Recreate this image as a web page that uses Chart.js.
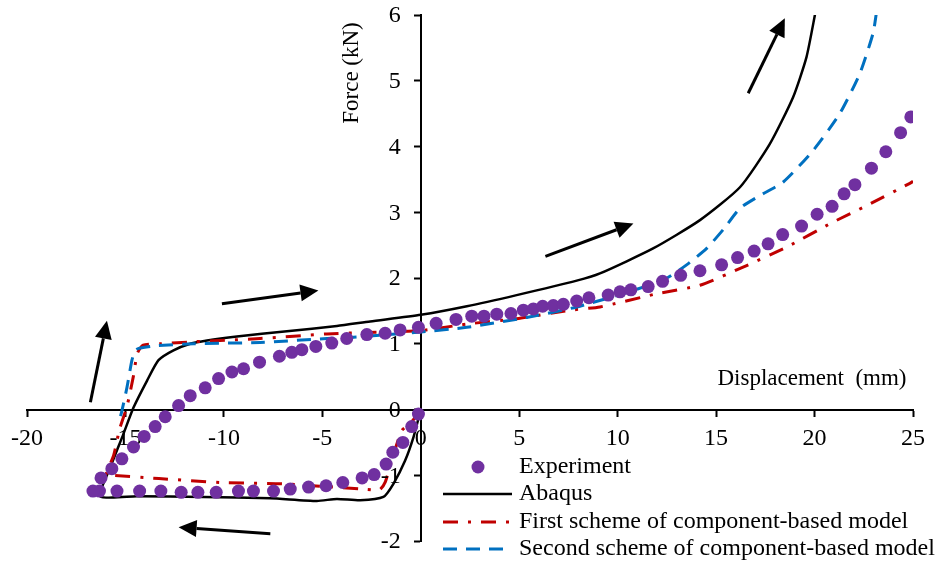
<!DOCTYPE html>
<html>
<head>
<meta charset="utf-8">
<script src="https://cdn.jsdelivr.net/npm/chart.js@4"></script>
<style>
  body { margin: 0; background: #fff; }
</style>
</head>
<body>
<canvas id="hysteresisChart" width="939" height="565"></canvas>
<script>
// displacement (mm) / force (kN)
const experimentX = [-0.12, -0.46, -0.91, -1.42, -1.76, -2.37, -2.98, -3.96, -4.81, -5.70, -6.63, -7.48, -8.50, -9.26, -10.39, -11.32, -12.17, -13.20, -14.28, -15.43, -16.32, -16.65,
  -16.24, -15.69, -15.18, -14.59, -14.05, -13.49, -12.98, -12.30, -11.71, -10.95, -10.27, -9.59, -9.00, -8.19, -7.18, -6.55, -6.04, -5.33, -4.52, -3.76, -2.74, -1.81, -1.05, -0.12,
  0.78, 1.79, 2.59, 3.21, 3.86, 4.58, 5.21, 5.72, 6.19, 6.73, 7.24, 7.92, 8.54, 9.52, 10.12, 10.67, 11.55, 12.28, 13.20, 14.18, 15.28, 16.09, 16.93, 17.64, 18.38, 19.34, 20.13, 20.89, 21.50, 22.05, 22.89, 23.62, 24.37, 24.89];
const experimentY = [-0.07, -0.26, -0.50, -0.65, -0.83, -0.99, -1.04, -1.11, -1.16, -1.18, -1.21, -1.24, -1.24, -1.24, -1.26, -1.26, -1.26, -1.24, -1.24, -1.24, -1.24, -1.24,
  -1.04, -0.90, -0.75, -0.57, -0.41, -0.26, -0.11, 0.06, 0.21, 0.33, 0.47, 0.57, 0.62, 0.72, 0.81, 0.87, 0.91, 0.96, 1.01, 1.08, 1.14, 1.16, 1.21, 1.25,
  1.31, 1.37, 1.42, 1.42, 1.45, 1.46, 1.51, 1.53, 1.57, 1.58, 1.60, 1.65, 1.70, 1.74, 1.79, 1.82, 1.87, 1.95, 2.04, 2.11, 2.20, 2.31, 2.41, 2.52, 2.66, 2.79, 2.97, 3.09, 3.28, 3.42, 3.67, 3.92, 4.21, 4.45];

const abaqusX = [0, -0.37, -0.80, -1.39, -1.90, -3.08, -4.26, -5.28, -7.65, -11.04, -14.42, -16.28,
  -15.77, -15.10, -14.59, -13.90, -13.32, -12.56, -11.71, -10.86, -9.34, -6.80, -4.26, -2.57, 0, 2.34, 4.87, 7.92, 9.10, 11.80, 14.18, 16.21, 17.73, 18.91, 19.59, 20.05];
const abaqusY = [0, -0.42, -0.78, -1.13, -1.33, -1.38, -1.36, -1.39, -1.35, -1.33, -1.32, -1.32,
  -0.88, -0.37, 0.03, 0.44, 0.75, 0.90, 1.00, 1.05, 1.11, 1.19, 1.27, 1.34, 1.44, 1.57, 1.74, 1.96, 2.07, 2.45, 2.88, 3.38, 4.04, 4.75, 5.36, 6.05];

const firstX = [0, -0.50, -0.96, -1.40, -1.80, -2.10, -2.93, -7.06, -10.20, -13.30, -15.80, -16.00,
  -15.60, -15.30, -14.92, -14.60, -14.40, -14.10, -13.23, -11.54, -8.16, -4.77, -3.00, 0, 2.34, 4.87, 7.58, 9.10, 11.98, 14.18, 16.55, 18.58, 20.94, 22.64, 24.84, 25.00];
const firstY = [0, -0.20, -0.32, -0.70, -1.10, -1.22, -1.21, -1.13, -1.11, -1.05, -1.00, -1.00,
  -0.70, -0.30, 0.05, 0.50, 0.85, 0.98, 1.00, 1.03, 1.08, 1.15, 1.17, 1.20, 1.30, 1.38, 1.51, 1.56, 1.76, 1.89, 2.19, 2.47, 2.85, 3.10, 3.44, 3.47];

const secondX = [-15.25, -15.18, -14.92, -14.67, -14.50, -14.33, -13.40, -11.54, -8.16, -4.77, -3.42, 0, 2.34, 5.38, 7.92, 10.79, 12.50, 13.50, 14.52, 15.40, 16.21, 17.20, 18.41, 19.93, 21.28, 22.30, 22.97, 23.15];
const secondY = [-0.10, -0.02, 0.34, 0.75, 0.90, 0.93, 0.97, 1.00, 1.02, 1.08, 1.10, 1.18, 1.25, 1.40, 1.56, 1.81, 2.00, 2.20, 2.45, 2.75, 3.06, 3.25, 3.46, 3.94, 4.50, 5.11, 5.72, 6.05];

// loading-direction arrows, start and end in data units
const arrowFrom = [[-16.78, 0.11], [-10.10, 1.61], [6.33, 2.33], [16.63, 4.81], [-7.64, -1.89]];
const arrowTo = [[-15.94, 1.35], [-5.20, 1.81], [10.80, 2.83], [18.49, 5.95], [-12.30, -1.79]];

const legendLabels = ['Experiment', 'Abaqus', 'First scheme of component-based model', 'Second scheme of component-based model'];

const FONT = '"Liberation Serif", "Times New Roman", serif';
const toPoints = (xs, ys) => xs.map((x, i) => ({ x, y: ys[i] }));

const arrowsPlugin = {
  id: 'arrows',
  afterDatasetsDraw(chart) {
    const { ctx, scales: { x, y } } = chart;
    ctx.save();
    ctx.strokeStyle = '#000';
    ctx.fillStyle = '#000';
    ctx.lineWidth = 3;
    arrowFrom.forEach((from, i) => {
      const x0 = x.getPixelForValue(from[0]), y0 = y.getPixelForValue(from[1]);
      const x1 = x.getPixelForValue(arrowTo[i][0]), y1 = y.getPixelForValue(arrowTo[i][1]);
      const a = Math.atan2(y1 - y0, x1 - x0);
      const head = 18, half = 8.5;
      const bx = x1 - head * Math.cos(a), by = y1 - head * Math.sin(a);
      ctx.beginPath();
      ctx.moveTo(x0, y0);
      ctx.lineTo(bx, by);
      ctx.stroke();
      ctx.beginPath();
      ctx.moveTo(x1, y1);
      ctx.lineTo(bx + half * Math.sin(a), by - half * Math.cos(a));
      ctx.lineTo(bx - half * Math.sin(a), by + half * Math.cos(a));
      ctx.closePath();
      ctx.fill();
    });
    ctx.restore();
  }
};

const labelsPlugin = {
  id: 'labels',
  afterDraw(chart) {
    const { ctx, scales: { x, y } } = chart;
    const sets = chart.data.datasets;
    ctx.save();
    ctx.fillStyle = '#000';
    ctx.font = '24px ' + FONT;
    ctx.textBaseline = 'middle';

    // y tick labels sit left of the centred axis
    ctx.textAlign = 'right';
    const axisX = x.getPixelForValue(0);
    y.ticks.forEach(t => ctx.fillText(String(t.value), axisX - 20, y.getPixelForValue(t.value) + 1));

    ctx.font = '23px ' + FONT;
    ctx.textAlign = 'center';
    ctx.fillText('Displacement  (mm)', 812, 379);
    ctx.save();
    ctx.translate(352, 73);
    ctx.rotate(-Math.PI / 2);
    ctx.fillText('Force (kN)', 0, 0);
    ctx.restore();

    // legend
    ctx.font = '24px ' + FONT;
    ctx.textAlign = 'left';
    const rowY = [467, 494, 522, 549];
    rowY.forEach((ry, i) => {
      const ds = sets[i];
      if (i === 0) {
        ctx.fillStyle = ds.backgroundColor;
        ctx.beginPath();
        ctx.arc(478, ry, ds.pointRadius, 0, Math.PI * 2);
        ctx.fill();
      } else {
        ctx.strokeStyle = ds.borderColor;
        ctx.lineWidth = ds.borderWidth;
        ctx.setLineDash(ds.borderDash || []);
        ctx.beginPath();
        ctx.moveTo(443, ry);
        ctx.lineTo(512, ry);
        ctx.stroke();
        ctx.setLineDash([]);
      }
      ctx.fillStyle = '#000';
      ctx.fillText(legendLabels[i], 519, ry);
    });
    ctx.restore();
  }
};

new Chart(document.getElementById('hysteresisChart'), {
  type: 'scatter',
  data: {
    datasets: [
      {
        label: legendLabels[0],
        data: toPoints(experimentX, experimentY),
        backgroundColor: '#7030A0',
        borderColor: '#7030A0',
        pointRadius: 6.5,
        pointBorderWidth: 0,
        showLine: false,
        order: 0
      },
      {
        label: legendLabels[1],
        data: toPoints(abaqusX, abaqusY),
        borderColor: '#000000',
        borderWidth: 2.5,
        pointRadius: 0,
        showLine: true,
        tension: 0.2,
        order: 3
      },
      {
        label: legendLabels[2],
        data: toPoints(firstX, firstY),
        borderColor: '#C00000',
        borderWidth: 3,
        borderDash: [15, 10, 3, 10],
        pointRadius: 0,
        showLine: true,
        tension: 0.2,
        order: 2
      },
      {
        label: legendLabels[3],
        data: toPoints(secondX, secondY),
        borderColor: '#0070C0',
        borderWidth: 3,
        borderDash: [14, 9],
        pointRadius: 0,
        showLine: true,
        tension: 0.2,
        order: 1
      }
    ]
  },
  options: {
    responsive: false,
    animation: false,
    layout: {
      padding: { left: 27, right: 26, top: 15, bottom: 24 }
    },
    plugins: {
      legend: { display: false },
      tooltip: { enabled: false }
    },
    scales: {
      x: {
        type: 'linear',
        position: { y: 0 },
        min: -20,
        max: 25,
        ticks: {
          stepSize: 5,
          color: '#000',
          padding: 9,
          font: { family: FONT, size: 24 }
        },
        grid: {
          drawOnChartArea: false,
          tickLength: 6,
          tickColor: '#000',
          tickWidth: 2
        },
        border: { color: '#000', width: 2 }
      },
      y: {
        type: 'linear',
        position: { x: 0 },
        min: -2,
        max: 6,
        ticks: {
          stepSize: 1,
          display: false
        },
        grid: {
          drawOnChartArea: false,
          tickLength: 6,
          tickColor: '#000',
          tickWidth: 2
        },
        border: { color: '#000', width: 2 }
      }
    }
  },
  plugins: [arrowsPlugin, labelsPlugin]
});
</script>
</body>
</html>
